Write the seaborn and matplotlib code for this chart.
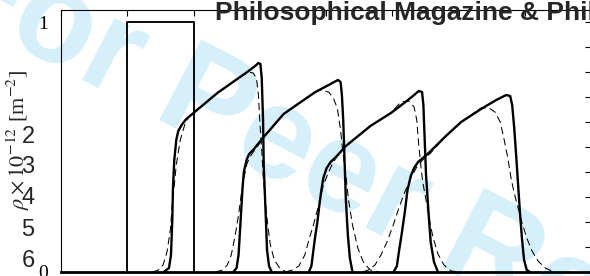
import numpy as np
import pandas as pd
import matplotlib
matplotlib.use("Agg")
import matplotlib.pyplot as plt
import seaborn as sns

# initial rectangular profile
rect_x = [1.0, 1.0, 2.0, 2.0]
rect_y = [0.0, 1.0, 1.0, 0.0]

# solid profiles (4 pulses)
s1_x = [1.55, 1.63, 1.66, 1.68, 1.69, 1.71, 1.74, 1.77, 1.82, 1.89, 2.00, 2.18, 2.36, 2.51, 2.66, 2.81, 2.93, 2.98,
        3.01, 3.03, 3.05, 3.06, 3.09, 3.11, 3.14, 3.18]
s1_y = [0, 0.016, 0.068, 0.208, 0.336, 0.448, 0.528, 0.564, 0.588, 0.612, 0.636, 0.676, 0.716, 0.744, 0.772, 0.80, 0.824, 0.836,
        0.832, 0.776, 0.608, 0.428, 0.228, 0.088, 0.024, 0]

s2_x = [2.60, 2.65, 2.68, 2.71, 2.74, 2.76, 2.80, 2.84, 2.90, 3.06, 3.36, 3.62, 3.84, 4.04, 4.18,
        4.22, 4.24, 4.26, 4.28, 4.30, 4.33, 4.36, 4.40]
s2_y = [0, 0.016, 0.068, 0.20, 0.336, 0.40, 0.448, 0.472, 0.488, 0.54, 0.632, 0.68, 0.72, 0.748, 0.768,
        0.76, 0.708, 0.608, 0.448, 0.288, 0.148, 0.056, 0]

s3_x = [3.74, 3.78, 3.81, 3.84, 3.87, 3.90, 3.93, 3.96, 4.01, 4.07, 4.15, 4.30, 4.67, 4.98, 5.20, 5.33, 5.40,
        5.45, 5.47, 5.49, 5.51, 5.55, 5.58, 5.63, 5.69]
s3_y = [0, 0.024, 0.088, 0.148, 0.20, 0.268, 0.328, 0.376, 0.416, 0.44, 0.46, 0.504, 0.584, 0.636, 0.68, 0.708, 0.724,
        0.72, 0.668, 0.528, 0.388, 0.228, 0.12, 0.04, 0]

s4_x = [5.02, 5.07, 5.10, 5.14, 5.19, 5.23, 5.28, 5.33, 5.39, 5.55, 5.81, 6.04, 6.34, 6.57, 6.72,
        6.78, 6.81, 6.84, 6.87, 6.90, 6.93, 6.96, 6.99, 7.03, 7.08]
s4_y = [0, 0.024, 0.08, 0.148, 0.24, 0.328, 0.384, 0.416, 0.44, 0.476, 0.544, 0.60, 0.652, 0.688, 0.708,
        0.704, 0.668, 0.58, 0.468, 0.348, 0.228, 0.128, 0.048, 0.008, 0]

# dashed profiles
d1_x = [1.38, 1.47, 1.54, 1.60, 1.65, 1.68, 1.71, 1.74, 1.80, 1.88, 1.98, 2.18, 2.36, 2.51, 2.66, 2.83, 2.90, 2.95,
        2.98, 3.00, 3.03, 3.05, 3.09, 3.12, 3.16, 3.22, 3.30, 3.40]
d1_y = [0, 0.008, 0.028, 0.08, 0.168, 0.268, 0.348, 0.428, 0.528, 0.60, 0.636, 0.676, 0.716, 0.744, 0.772, 0.80, 0.796, 0.776,
        0.708, 0.608, 0.488, 0.388, 0.268, 0.188, 0.108, 0.048, 0.016, 0]

d2_x = [2.33, 2.44, 2.51, 2.57, 2.63, 2.68, 2.72, 2.77, 2.81, 2.87, 2.97, 3.06, 3.36, 3.62, 3.84, 3.92, 4.04, 4.11,
        4.17, 4.22, 4.25, 4.30, 4.34, 4.40, 4.48, 4.57, 4.67, 4.80]
d2_y = [0, 0.008, 0.028, 0.068, 0.148, 0.228, 0.308, 0.388, 0.436, 0.468, 0.504, 0.54, 0.632, 0.68, 0.72, 0.728, 0.72, 0.696,
        0.656, 0.568, 0.488, 0.388, 0.288, 0.188, 0.096, 0.036, 0.008, 0]

d3_x = [3.39, 3.49, 3.59, 3.68, 3.75, 3.81, 3.89, 3.96, 4.04, 4.11, 4.19, 4.30, 4.67, 4.98, 5.13, 5.25, 5.33, 5.37,
        5.40, 5.43, 5.46, 5.51, 5.55, 5.61, 5.69, 5.78, 5.89, 6.01]
d3_y = [0, 0.008, 0.024, 0.068, 0.136, 0.188, 0.268, 0.348, 0.40, 0.44, 0.472, 0.504, 0.584, 0.636, 0.68, 0.684, 0.66, 0.608,
        0.508, 0.428, 0.36, 0.288, 0.224, 0.144, 0.072, 0.028, 0.004, 0]

d4_x = [4.55, 4.64, 4.74, 4.83, 4.92, 5.01, 5.10, 5.19, 5.28, 5.37, 5.46, 5.58, 5.81, 6.04, 6.34, 6.46, 6.55, 6.63,
        6.69, 6.75, 6.79, 6.84, 6.90, 6.96, 7.03, 7.11, 7.20, 7.31, 7.44]
d4_y = [0, 0.008, 0.028, 0.068, 0.12, 0.184, 0.256, 0.32, 0.376, 0.42, 0.448, 0.476, 0.544, 0.60, 0.656, 0.656, 0.64, 0.60,
        0.528, 0.448, 0.38, 0.316, 0.256, 0.196, 0.136, 0.084, 0.044, 0.016, 0]

ytick_vals = np.round(np.arange(0, 1.01, 0.1), 1)
ytick_labels = ["0", "", "", "", "", "", "", "", "", "", "1"]
xtick_vals = list(range(0, 9))

# stray labels of the overlapping figure
stray_digits = ["2", "3", "4", "5", "6"]
stray_y_px = [137, 167, 198, 230, 261]

sns.set_style("white")
plt.rcParams['mathtext.fontset'] = 'stix'

fig = plt.figure(figsize=(5.9, 2.76), dpi=100)
fig.patch.set_facecolor("white")
ax = fig.add_axes([61 / 590, 4 / 276, 530 / 590, 262 / 276])
ax.patch.set_alpha(0)

fig.text(-68 / 590, 1 - 2 / 276, "For Peer Review", rotation=-27.5, rotation_mode='anchor',
         ha='left', va='baseline', fontsize=94, fontweight='bold', family='Liberation Sans',
         color='#d5effb', zorder=-5)

sns.lineplot(x=rect_x, y=rect_y, sort=False, estimator=None, color='black', lw=1.35, ax=ax)
for xs, ys in [(d1_x, d1_y), (d2_x, d2_y), (d3_x, d3_y), (d4_x, d4_y)]:
    sns.lineplot(x=xs, y=ys, sort=False, estimator=None, color='black', lw=0.75,
                 dashes=False, ax=ax).lines[-1].set_dashes((7, 4))
for xs, ys in [(s1_x, s1_y), (s2_x, s2_y), (s3_x, s3_y), (s4_x, s4_y)]:
    sns.lineplot(x=xs, y=ys, sort=False, estimator=None, color='black', lw=1.7, ax=ax)

ax.set_xlim(0, 8)
ax.set_ylim(0, 1.048)
ax.set_xticks(xtick_vals)
ax.set_xticklabels([])
ax.set_yticks(ytick_vals)
ax.set_yticklabels(ytick_labels, family='Liberation Serif', fontsize=14)
ax.tick_params(direction='in', top=True, right=True, length=4, width=0.8, pad=9, colors='black')
for side in ['left', 'top', 'right']:
    ax.spines[side].set_linewidth(0.8)
    ax.spines[side].set_color('black')
ax.spines['bottom'].set_linewidth(2.0)
ax.spines['bottom'].set_color('black')

fig.text(18 / 590, 1 - 140 / 276, r'$\rho\times10^{-12}$ [m$^{-2}$]', rotation=90,
         ha='center', va='center', fontsize=16, family='Liberation Serif')

for d, yp in zip(stray_digits, stray_y_px):
    fig.text(28 / 590, 1 - yp / 276, d, ha='center', va='center', fontsize=17, family='Liberation Sans')

fig.text(215 / 590, 1 - 20 / 276, "Philosophical Magazine & Philosophical Magazine Letters",
         ha='left', va='baseline', fontsize=19, fontweight='bold', family='Liberation Sans', zorder=5)

fig.savefig("out.png", dpi=100)
